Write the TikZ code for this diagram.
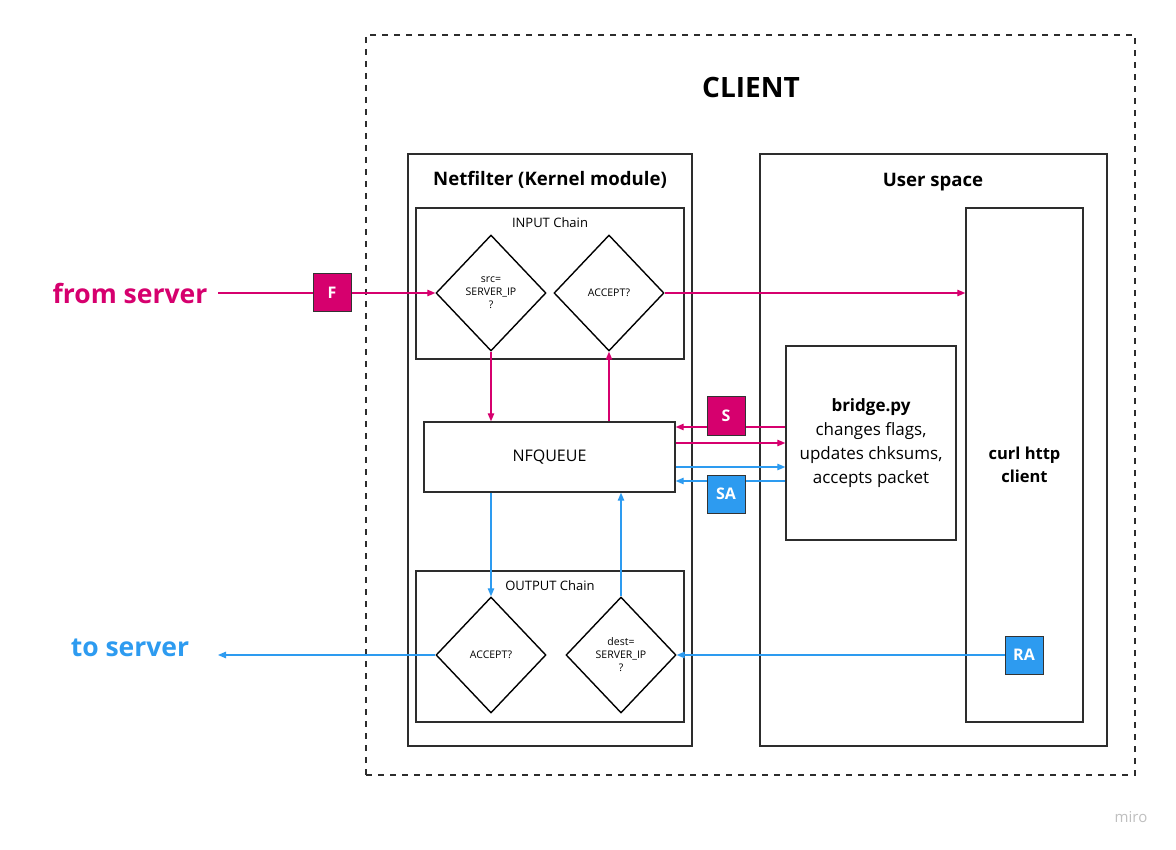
\documentclass[tikz,border=0pt]{standalone}
\usepackage{fontspec}
\setmainfont{Open Sans}
\usetikzlibrary{shapes.geometric,arrows.meta}
\definecolor{flagred}{RGB}{214,0,110}
\definecolor{flagblue}{RGB}{45,155,240}
\definecolor{framegray}{RGB}{45,45,45}

\begin{document}
\begin{tikzpicture}[x=1pt, y=-1pt,
    box/.style={draw=framegray, line width=1.4pt, inner sep=0pt},
    test/.style={diamond, draw=black, line width=1.4pt, inner sep=0pt, minimum width=110, minimum height=116, align=center, font=\fontsize{10.5}{13}\selectfont},
    flag/.style={draw=black!80, line width=1pt, minimum size=38, inner sep=0pt, text=white, font=\fontsize{16}{18}\selectfont\bfseries},
    title/.style={font=\fontsize{18.6}{22}\selectfont\bfseries},
    chain/.style={font=\fontsize{13}{15}\selectfont},
    redline/.style={draw=flagred, line width=1.2pt, -{Triangle[length=8pt, width=6.5pt]}},
    blueline/.style={draw=flagblue, line width=1.2pt, -{Triangle[length=8pt, width=6.5pt]}}
]
\useasboundingbox (0,0) rectangle (1176,850);

% containers
\node[box, dashed, dash pattern=on 6pt off 6pt, minimum width=769, minimum height=740] (client) at (750.5,405) {};
\node[font=\fontsize{28}{32}\selectfont\bfseries] (clientlbl) at (751,88) {CLIENT};

\node[box, minimum width=284, minimum height=592] (netfilter) at (550,450) {};
\node[title] (netfilterlbl) at (550,180) {Netfilter (Kernel module)};
\node[box, minimum width=347, minimum height=592] (userspace) at (933.5,450) {};
\node[title] (userspacelbl) at (933,182) {User space};

% chains
\node[box, minimum width=268, minimum height=151] (input) at (550,283.5) {};
\node[chain] (inputlbl) at (550,223) {INPUT Chain};
\node[box, minimum width=268, minimum height=151] (output) at (550,646.5) {};
\node[chain] (outputlbl) at (550,586) {OUTPUT Chain};

\node[test] (srctest) at (491,293) {src=\\SERVER\_IP\\?};
\node[test] (inaccept) at (609,293) {ACCEPT?};
\node[test] (outaccept) at (491,655) {ACCEPT?};
\node[test] (desttest) at (621,655) {dest=\\SERVER\_IP\\?};

\node[box, minimum width=251, minimum height=70, font=\fontsize{16}{18}\selectfont] (nfqueue) at (549.5,457) {NFQUEUE};

% user space
\node[box, minimum width=170, minimum height=194, align=center, font=\fontsize{17}{24}\selectfont] (bridge) at (871,443)
  {\textbf{bridge.py}\\changes flags,\\updates chksums,\\accepts packet};
\node[box, minimum width=117, minimum height=514, align=center, font=\fontsize{16.5}{23}\selectfont\bfseries] (curl) at (1024.5,465) {curl http\\client};

% outside labels
\node[text=flagred, font=\fontsize{26.5}{30}\selectfont\bfseries] (fromsrv) at (130,293) {from server};
\node[text=flagblue, font=\fontsize{26.5}{30}\selectfont\bfseries] (tosrv) at (130,648) {to server};
\coordinate (fromend) at (218,293);
\coordinate (toend) at (218,655);

% packet flow
\draw[redline] (fromend) -- (srctest.west);
\draw[redline] (inaccept.east) -- (inaccept.east -| curl.west);
\draw[redline] (srctest.south) -- (srctest.south |- nfqueue.north);
\draw[redline] (nfqueue.north -| inaccept.south) -- (inaccept.south);

\coordinate (qa) at ([yshift=30pt]nfqueue.east);
\coordinate (qb) at ([yshift=14pt]nfqueue.east);
\coordinate (qc) at ([yshift=-10pt]nfqueue.east);
\coordinate (qd) at ([yshift=-24pt]nfqueue.east);
\draw[redline] (qa -| bridge.west) -- (qa);
\draw[redline] (qb) -- (qb -| bridge.west);
\draw[blueline] (qc) -- (qc -| bridge.west);
\draw[blueline] (qd -| bridge.west) -- (qd);

\draw[blueline] (nfqueue.south -| outaccept.north) -- (outaccept.north);
\draw[blueline] (desttest.north) -- (desttest.north |- nfqueue.south);

% flags
\node[flag, fill=flagred] (fflag) at (332,293) {F};
\node[flag, fill=flagred] (sflag) at (726,416) {S};
\node[flag, fill=flagblue] (saflag) at (726,494) {SA};
\node[flag, fill=flagblue] (raflag) at (1024,655) {RA};

\draw[blueline] (raflag.west) -- (desttest.east);
\draw[blueline] (outaccept.west) -- (toend);

\node[text=black!25, font=\fontsize{15}{17}\selectfont] (miro) at (1131,817) {miro};
\end{tikzpicture}
\end{document}
